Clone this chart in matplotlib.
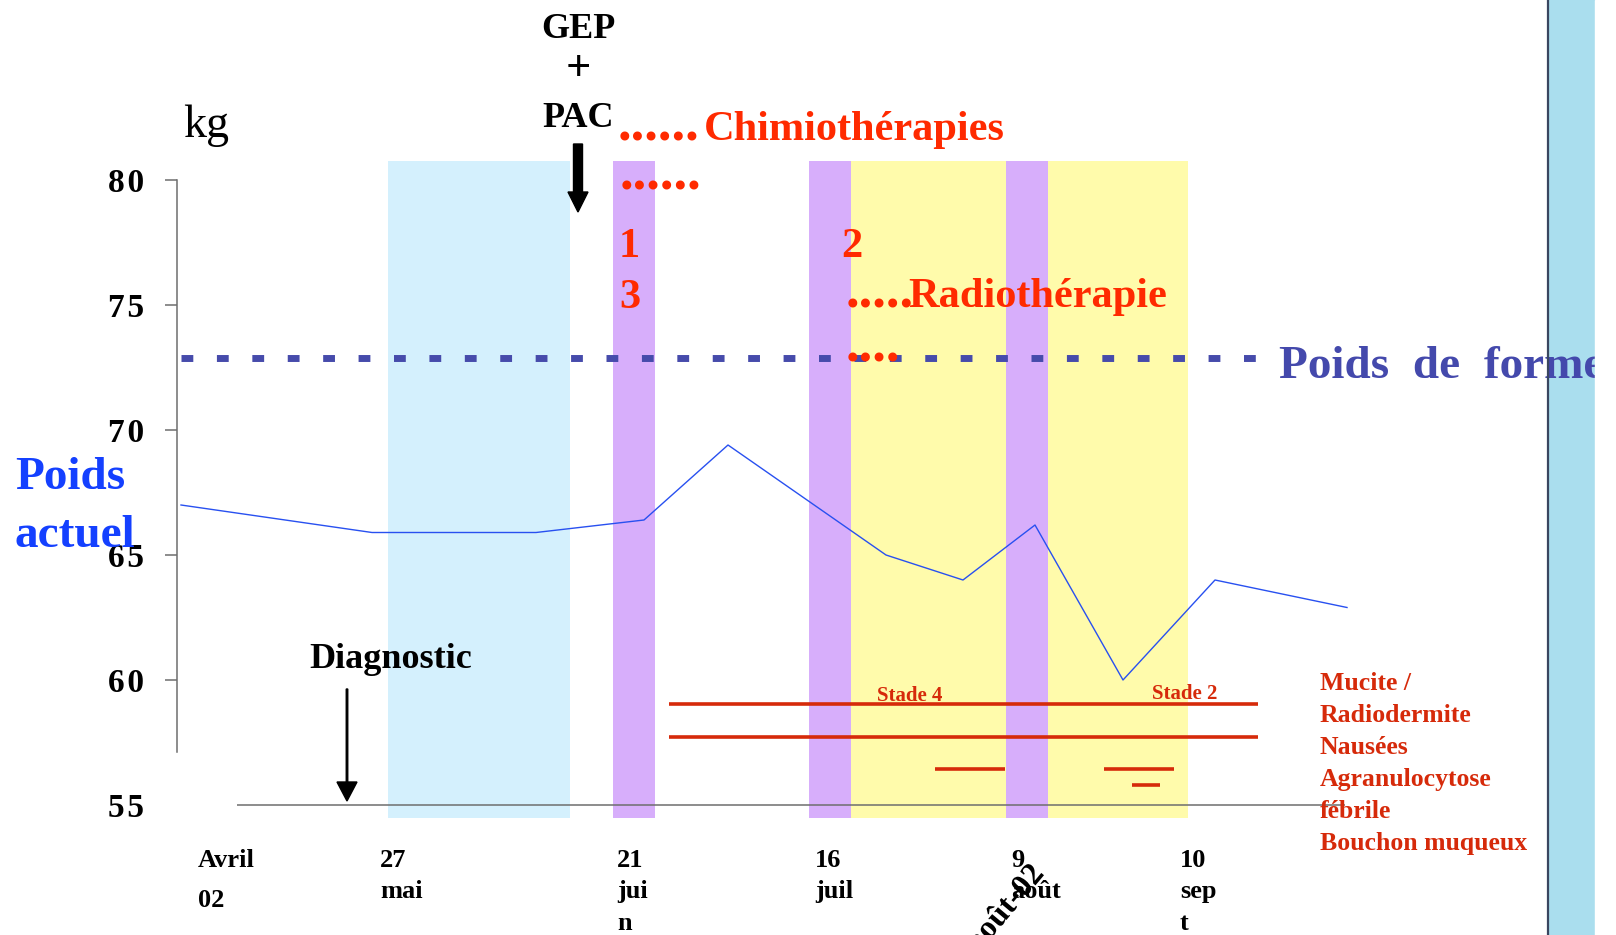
import matplotlib
matplotlib.use("Agg")
import matplotlib.pyplot as plt
import matplotlib.patheffects as pe

plt.rcParams['font.family'] = ['Liberation Serif', 'DejaVu Serif']

# positions along the timeline are slide units (the chart axis is not linear in days)
weight_x = [0.4, 19.5, 35.9, 46.7, 55.1, 70.9, 78.6, 85.8, 94.6, 103.8, 117.0]
weight_kg = [67.0, 65.9, 65.9, 66.4, 69.4, 65.0, 64.0, 66.2, 60.0, 64.0, 62.9]
poids_forme = 72.9
forme_start, forme_end = 0.4, 109.1

y_ticks = [55, 60, 65, 70, 75, 80]

date_x = [2.1, 20.3, 44.0, 63.8, 83.4, 100.3]
date_labels = [["Avril", "02"], ["27", "mai"], ["21", "jui", "n"],
               ["16", "juil"], ["9", "août"], ["10", "sep", "t"]]

# periodes de traitement
neo_start, neo_end = 21.1, 39.3
radio_start, radio_end = 67.4, 101.1
chimio_start = [43.6, 63.2, 82.9]
chimio_end = [47.8, 67.4, 87.1]
band_bottom, band_top = 54.48, 80.76

# toxicites
tox_labels = ["Mucite /", "Radiodermite", "Nausées", "Agranulocytose", "fébrile", "Bouchon muqueux"]
tox_y = [59.04, 57.72, 56.44, 56.44, 55.8]
tox_start = [49.2, 49.2, 75.8, 92.7, 95.5]
tox_end = [108.1, 108.1, 82.8, 99.7, 98.3]

RED = "#ff2a00"
DRED = "#d62a0a"
PURPLE = "#d7aefb"
DOTS = 39.5

fig = plt.figure(figsize=(16.16, 9.35), dpi=100)
ax = fig.add_axes([0, 0, 1, 1])
ax.set_xlim(-17.7, 143.9)
ax.set_ylim(49.8, 87.2)
ax.patch.set_alpha(0)
for s in ['top', 'right', 'bottom']:
    ax.spines[s].set_visible(False)
ax.spines['left'].set_position(('data', 0))
ax.spines['left'].set_bounds(57.12, 80)
ax.spines['left'].set_color('#6e6e6e')
ax.spines['left'].set_linewidth(1.1)
ax.set_xticks([])
ax.set_yticks(y_ticks, labels=['\u200a'.join(str(t)) for t in y_ticks],
              fontsize=24, fontweight='bold')
ax.tick_params(axis='y', direction='out', length=8.6, width=1.1, color='#6e6e6e', pad=15)
ax.yaxis.get_major_ticks()[0].tick1line.set_visible(False)

# bandes de couleur
ax.bar(neo_start, band_top - band_bottom, width=neo_end - neo_start, bottom=band_bottom,
       align='edge', color='#d4f0fd', zorder=0.5)
ax.bar(radio_start, band_top - band_bottom, width=radio_end - radio_start, bottom=band_bottom,
       align='edge', color='#fffbab', zorder=0.6)
ax.bar(chimio_start, band_top - band_bottom,
       width=[e - s for s, e in zip(chimio_start, chimio_end)], bottom=band_bottom,
       align='edge', color=PURPLE, zorder=0.7)

# bande droite de la diapo
ax.axvspan(137.2, 141.8, color='#aadeee', zorder=0.4)
ax.axvline(137.1, color='#3a4660', lw=1.6, zorder=8)
ax.axvspan(141.8, 143.9, color='white', zorder=10)

# ligne de base a 55
ax.hlines(55, 6.0, 116.8, color='#6e6e6e', lw=1.1, zorder=2)

# poids de forme
ax.plot([forme_start, forme_end], [poids_forme, poids_forme], color='#464bab', lw=5,
        linestyle=(0, (1.7, 3.4)), solid_capstyle='butt', dash_capstyle='butt', zorder=2)
ax.text(110.2, 72.08, "Poids  de  forme", fontsize=34, fontweight='bold', color='#4449ac', zorder=7)

# poids actuel
ax.plot(weight_x, weight_kg, color='#2850f0', lw=1.0, zorder=3)
ax.text(-16.2, 67.64, "Poids", fontsize=34, fontweight='bold', color='#1440ff', zorder=5)
ax.text(-16.2, 65.32, "actuel", fontsize=34, fontweight='bold', color='#1440ff', zorder=5)

# toxicites
ax.hlines(tox_y, tox_start, tox_end, color=DRED, lw=2.6, zorder=3)
for i, lab in enumerate(tox_labels):
    ax.text(114.3, 59.6 - 1.28 * i, lab, fontsize=18.5, fontweight='bold', color=DRED, zorder=5)
ax.text(70.0, 59.16, "Stade 4", fontsize=15, fontweight='bold', color=DRED, zorder=5)
ax.text(97.5, 59.24, "Stade 2", fontsize=15, fontweight='bold', color=DRED, zorder=5)

# textes de traitement
ax.text(0.6, 81.72, "kg", fontsize=33)
ax.text(40.1, 85.68, "GEP", fontsize=26, fontweight='bold', ha='center')
ax.text(40.1, 84.45, "+", fontsize=32, fontweight='bold', ha='center', va='center')
ax.text(40.1, 82.12, "PAC", fontsize=26, fontweight='bold', ha='center')
ax.arrow(40.1, 81.44, 0, -2.72, width=0.9, head_width=2.0, head_length=0.8,
         length_includes_head=True, color='black', zorder=5)

ax.text(44.1, 81.6, "......", fontsize=DOTS, fontweight='bold', color=RED, zorder=5)
ax.text(52.7, 81.6, "Chimiothérapies", fontsize=30.5, fontweight='bold', color=RED, zorder=5)
ax.text(44.3, 79.64, "......", fontsize=DOTS, fontweight='bold', color=RED, zorder=5)
ax.text(44.2, 76.92, "1", fontsize=30.5, fontweight='bold', color=RED, zorder=5)
ax.text(44.2, 74.88, "3", fontsize=30.5, fontweight='bold', color=RED, zorder=5)
ax.text(66.4, 76.92, "2", fontsize=30.5, fontweight='bold', color=RED, zorder=5)
ax.text(66.9, 74.92, ".....", fontsize=DOTS, fontweight='bold', color=RED, zorder=5)
ax.text(73.1, 74.92, "Radiothérapie", fontsize=30.5, fontweight='bold', color=RED, zorder=5)
ax.text(66.9, 72.76, "....", fontsize=DOTS, fontweight='bold', color=RED, zorder=5)

# diagnostic
ax.text(13.2, 60.48, "Diagnostic", fontsize=26, fontweight='bold')
ax.arrow(17.0, 59.64, 0, -4.48, width=0.15, head_width=2.0, head_length=0.76,
         length_includes_head=True, color='black', zorder=5)

# etiquettes de dates
ax.text(86.8, 52.24, "août-02", fontsize=23, fontweight='bold', rotation=50,
        rotation_mode='anchor', ha='right', va='baseline', zorder=4,
        path_effects=[pe.withStroke(linewidth=3, foreground='white')])
for x, lines in zip(date_x, date_labels):
    gap = 1.6 if lines[0] == "Avril" else 1.26
    for j, t in enumerate(lines):
        ax.text(x, 52.52 - gap * j, t, fontsize=19, fontweight='bold', zorder=6)

fig.savefig("out.png", dpi=100)
